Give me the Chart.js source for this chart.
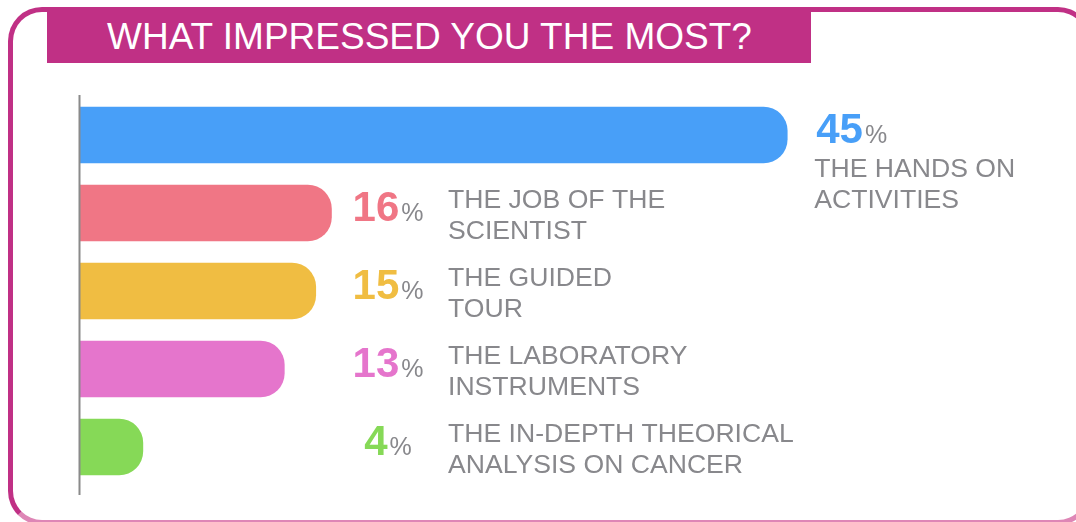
<!DOCTYPE html>
<html>
<head>
<meta charset="utf-8">
<script src="https://cdn.jsdelivr.net/npm/chart.js@4/dist/chart.umd.min.js"></script>
<style>
  body { margin: 0; background: #fff; width: 1076px; height: 522px; overflow: hidden; position: relative; font-family: "Liberation Sans", Arial, sans-serif; }
  #frame { position: absolute; left: 8px; top: 7px; width: 1084px; height: 518px; box-sizing: border-box;
           border: 5px solid #c03085; border-bottom-color: #de86b6; border-radius: 34px; }
  #title { position: absolute; left: 47px; top: 7px; width: 704px; height: 56px; padding-left: 60px;
           background: #c03085; color: #fff; font-size: 37px; line-height: 60px; white-space: nowrap; }
  #myChart { position: absolute; left: 0; top: 0; }
</style>
</head>
<body>
<div id="frame"></div>
<div id="title">WHAT IMPRESSED YOU THE MOST?</div>
<canvas id="myChart" width="1076" height="522"></canvas>
<script>
// answers, top to bottom
const categories = ['THE HANDS ON ACTIVITIES', 'THE JOB OF THE SCIENTIST', 'THE GUIDED TOUR', 'THE LABORATORY INSTRUMENTS', 'THE IN-DEPTH THEORICAL ANALYSIS ON CANCER'];
const labelLines = [
    ['THE HANDS ON', 'ACTIVITIES'],
    ['THE JOB OF THE', 'SCIENTIST'],
    ['THE GUIDED', 'TOUR'],
    ['THE LABORATORY', 'INSTRUMENTS'],
    ['THE IN-DEPTH THEORICAL', 'ANALYSIS ON CANCER'],
];
const percentages = [45, 16, 15, 13, 4];
const barColors = ['#489ff8', '#f07685', '#f0bd42', '#e575cc', '#86d957'];

const grey = '#88888c';
const font = '"Liberation Sans", Arial, sans-serif';

//draws the axis line and the percent + answer text next to each bar
const labelsPlugin = {
    id: 'labels',
    afterDatasetsDraw(chart) {
        const ctx = chart.ctx;
        const area = chart.chartArea;
        const bars = chart.getDatasetMeta(0).data;
        const maxVal = Math.max(...percentages);

        ctx.save();
        ctx.strokeStyle = '#8a8a8a';
        ctx.lineWidth = 2;
        ctx.beginPath();
        ctx.moveTo(area.left - 0.5, area.top - 1);
        ctx.lineTo(area.left - 0.5, area.bottom + 9);
        ctx.stroke();

        ctx.textBaseline = 'alphabetic';
        bars.forEach((bar, i) => {
            const num = String(percentages[i]);
            ctx.font = 'bold 42px ' + font;
            const numW = ctx.measureText(num).width;
            ctx.font = '25px ' + font;
            const pctW = ctx.measureText('%').width;
            const gap = 2;
            let vx, tx, base1;
            if (percentages[i] === maxVal) {
                vx = bar.x + 29;
                tx = bar.x + 27;
                base1 = bar.y + 42;
            } else {
                vx = area.left + 308 - (numW + gap + pctW) / 2;
                tx = area.left + 368;
                base1 = bar.y - 5;
            }
            const vBase = bar.y + 8;
            ctx.textAlign = 'left';
            ctx.fillStyle = barColors[i];
            ctx.font = 'bold 42px ' + font;
            ctx.fillText(num, vx, vBase);
            ctx.fillStyle = grey;
            ctx.font = '25px ' + font;
            ctx.fillText('%', vx + numW + gap, vBase);

            ctx.font = '26.6px ' + font;
            labelLines[i].forEach((line, j) => {
                ctx.fillText(line, tx, base1 + j * 31);
            });
        });
        ctx.restore();
    }
};

const data = {
    labels: categories,
    datasets: [{
        data: percentages,
        backgroundColor: barColors,
        borderWidth: 0,
        borderRadius: 24,
        borderSkipped: 'start',
        barThickness: 56,
    }]
};

const config = {
    type: 'bar',
    data,
    options: {
        indexAxis: 'y',
        responsive: false,
        animation: false,
        devicePixelRatio: 1,
        layout: { padding: { left: 80, right: 53, top: 96, bottom: 36 } },
        scales: {
            x: { display: false, min: 0, max: 60 },
            y: { display: false }
        },
        plugins: {
            legend: { display: false },
            tooltip: { enabled: false }
        }
    },
    plugins: [labelsPlugin]
};

const myChart = new Chart(document.querySelector('#myChart'), config);
</script>
</body>
</html>
